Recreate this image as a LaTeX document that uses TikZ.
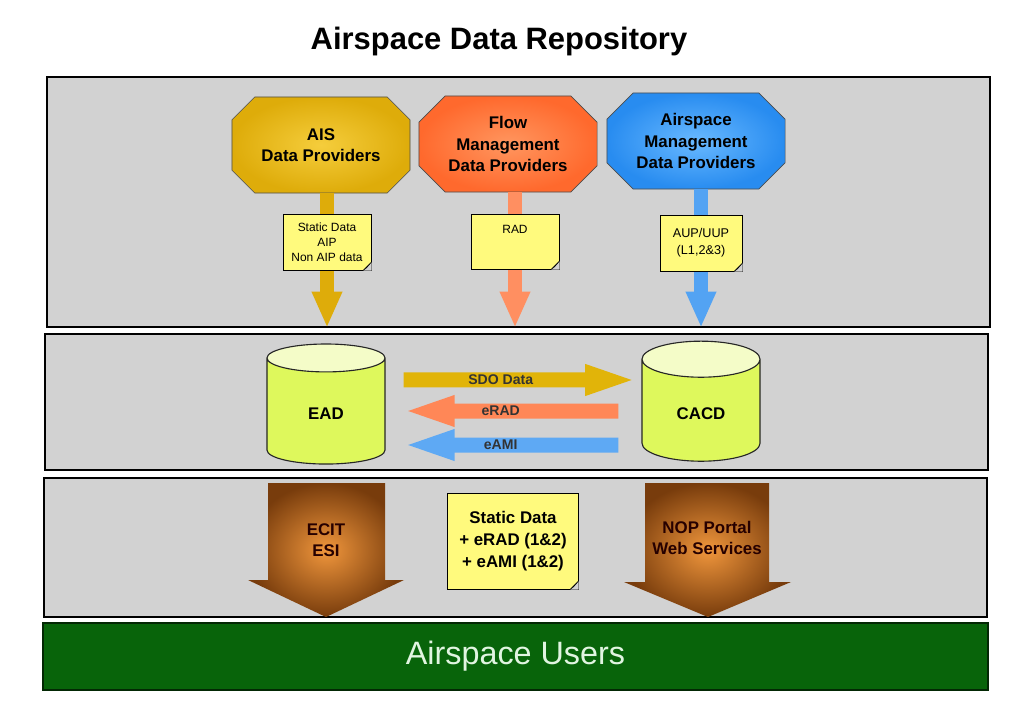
\documentclass[tikz,border=0pt]{standalone}
\usepackage{fontspec}
\setmainfont{Liberation Sans}
\usepackage{tikz}
\usetikzlibrary{arrows.meta,shapes.geometric,shapes.misc,positioning}

\definecolor{panelgray}{RGB}{210,210,210}
\definecolor{noteyellow}{RGB}{255,250,125}
\definecolor{foldgray}{RGB}{175,175,160}
\definecolor{aisgold}{RGB}{222,172,10}
\definecolor{aislight}{RGB}{245,205,60}
\definecolor{floworange}{RGB}{255,105,45}
\definecolor{flowlight}{RGB}{255,150,95}
\definecolor{asmblue}{RGB}{40,140,240}
\definecolor{asmlight}{RGB}{105,185,255}
\definecolor{dbbody}{RGB}{222,248,92}
\definecolor{dbtop}{RGB}{244,252,200}
\definecolor{ecitbrown}{RGB}{120,60,12}
\definecolor{ecitorange}{RGB}{240,150,60}
\definecolor{usersgreen}{RGB}{8,100,10}
\definecolor{userstext}{RGB}{225,245,225}

% folded corner of a sticky note
\newcommand{\notefold}[1]{%
 \fill[panelgray] ([xshift=-6pt]#1.south east) -- (#1.south east) -- ([yshift=6pt]#1.south east) -- cycle;
 \draw[fill=foldgray,line join=round] ([xshift=-6pt]#1.south east) -- ([yshift=6pt]#1.south east)
  -- ([xshift=-3.5pt,yshift=2pt]#1.south east) -- cycle;}

\begin{document}
\begin{tikzpicture}[x=0.025cm,y=-0.025cm,
 panel/.style={draw=black,line width=1pt,fill=panelgray,minimum width=23.575cm},
 provider/.style={chamfered rectangle,chamfered rectangle xsep=0.53cm,draw=black!70,
  minimum width=4.45cm,minimum height=2.4cm,inner sep=1pt,align=center,
  font=\fontsize{12}{15}\selectfont\bfseries},
 notebox/.style={draw=black,line width=0.7pt,fill=noteyellow,align=center,inner sep=2pt,
  font=\fontsize{8.5}{10.7}\selectfont},
 db/.style={cylinder,shape border rotate=90,aspect=0.62,draw=black!85,line width=0.8pt,
  cylinder uses custom fill,cylinder body fill=dbbody,cylinder end fill=dbtop,
  minimum width=2.95cm,minimum height=3cm,font=\fontsize{12}{14}\selectfont\bfseries},
 feed/.style={line width=0.35cm,-{Triangle[length=0.9cm,width=0.7cm]}},
 exchange/.style={line width=0.375cm,-{Triangle[length=1.325cm,width=0.675cm]},
  font=\fontsize{10}{12}\selectfont\bfseries},
 outlet/.style={inner color=ecitorange,outer color=ecitbrown},
 outtext/.style={align=center,text=black!85!red,font=\fontsize{12}{15}\selectfont\bfseries}]

 \path[use as bounding box,fill=white] (0,0) rectangle (1024,709);

 \node[font=\fontsize{22}{26}\selectfont\bfseries] (title) at (499,42) {Airspace Data Repository};

 % the three layers
 \node[panel,minimum height=6.25cm] (top) at (518.5,202) {};
 \node[panel,minimum height=3.4cm] (mid) at (516.5,402) {};
 \node[panel,minimum height=3.475cm] (low) at (515.5,547.5) {};
 \node[fill=usersgreen,draw=black!60!usersgreen,line width=1pt,minimum width=23.625cm,
  minimum height=1.675cm,text=userstext,font=\fontsize{23}{27}\selectfont] (users) at (515.5,656.5) {Airspace Users};

 % data providers
 \node[provider,inner color=aislight,outer color=aisgold] (AIS) at (321,145) {AIS\\Data Providers};
 \node[provider,inner color=flowlight,outer color=floworange] (FMP) at (508,144) {Flow\\Management\\Data Providers};
 \node[provider,inner color=asmlight,outer color=asmblue] (ASM) at (696,141) {Airspace\\Management\\Data Providers};

 \coordinate (aispos) at (327,242);
 \coordinate (radpos) at (515,241.5);
 \coordinate (auppos) at (701,243);
 \draw[feed,aisgold] (AIS.south -| aispos) -- (aispos |- top.south);
 \draw[feed,floworange!75!white] (FMP.south -| radpos) -- (radpos |- top.south);
 \draw[feed,asmblue!80!white] (ASM.south -| auppos) -- (auppos |- top.south);

 \node[notebox,minimum width=2.2cm,minimum height=1.4cm] (aisnote) at (aispos) {Static Data\\AIP\\Non AIP data};
 \node[notebox,minimum width=2.2cm,minimum height=1.375cm,
  label={[anchor=north,yshift=-5pt,font=\fontsize{8.5}{10.7}\selectfont]north:RAD}] (radnote) at (radpos) {};
 \node[notebox,minimum width=2.05cm,minimum height=1.4cm,font=\fontsize{9}{12}\selectfont] (aupnote) at (auppos) {AUP/UUP\\(L1,2\&3)};
 \notefold{aisnote}
 \notefold{radnote}
 \notefold{aupnote}

 % repositories
 \node[db] (EAD) at (326,414) {EAD};
 \node[db] (CACD) at (701,414) {CACD};

 \draw[exchange,aisgold!90!yellow,shorten <=0.45cm,shorten >=0.08cm]
  ([yshift=0.85cm]EAD.east) -- node[pos=0.45,text=black!80]{SDO Data} ([yshift=0.85cm]CACD.west);
 \draw[exchange,floworange!80!white,shorten <=0.575cm,shorten >=0.4cm]
  ([yshift=0.075cm]CACD.west) -- node[pos=0.55,text=black!80]{eRAD} ([yshift=0.075cm]EAD.east);
 \draw[exchange,asmblue!75!white,shorten <=0.575cm,shorten >=0.4cm]
  ([yshift=-0.775cm]CACD.west) -- node[pos=0.55,text=black!80]{eAMI} ([yshift=-0.775cm]EAD.east);

 % distribution to the users
 \shade[outlet] (268,483) -- (385,483) -- (385,580) -- (404,580) -- (326,617) -- (248,580) -- (268,580) -- cycle;
 \shade[outlet] (645,483) -- (769,483) -- (769,582) -- (791,582) -- (708,617) -- (624,582) -- (645,582) -- cycle;
 \node[outtext] (ECIT) at (326,540) {ECIT\\ESI};
 \node[outtext] (NOP) at (707,538) {NOP Portal\\Web Services};

 \node[notebox,minimum width=3.25cm,minimum height=2.4cm,font=\fontsize{12}{15.5}\selectfont\bfseries]
  (staticnote) at (513,541) {Static Data\\+ eRAD (1\&2)\\+ eAMI (1\&2)};
 \notefold{staticnote}
\end{tikzpicture}
\end{document}
